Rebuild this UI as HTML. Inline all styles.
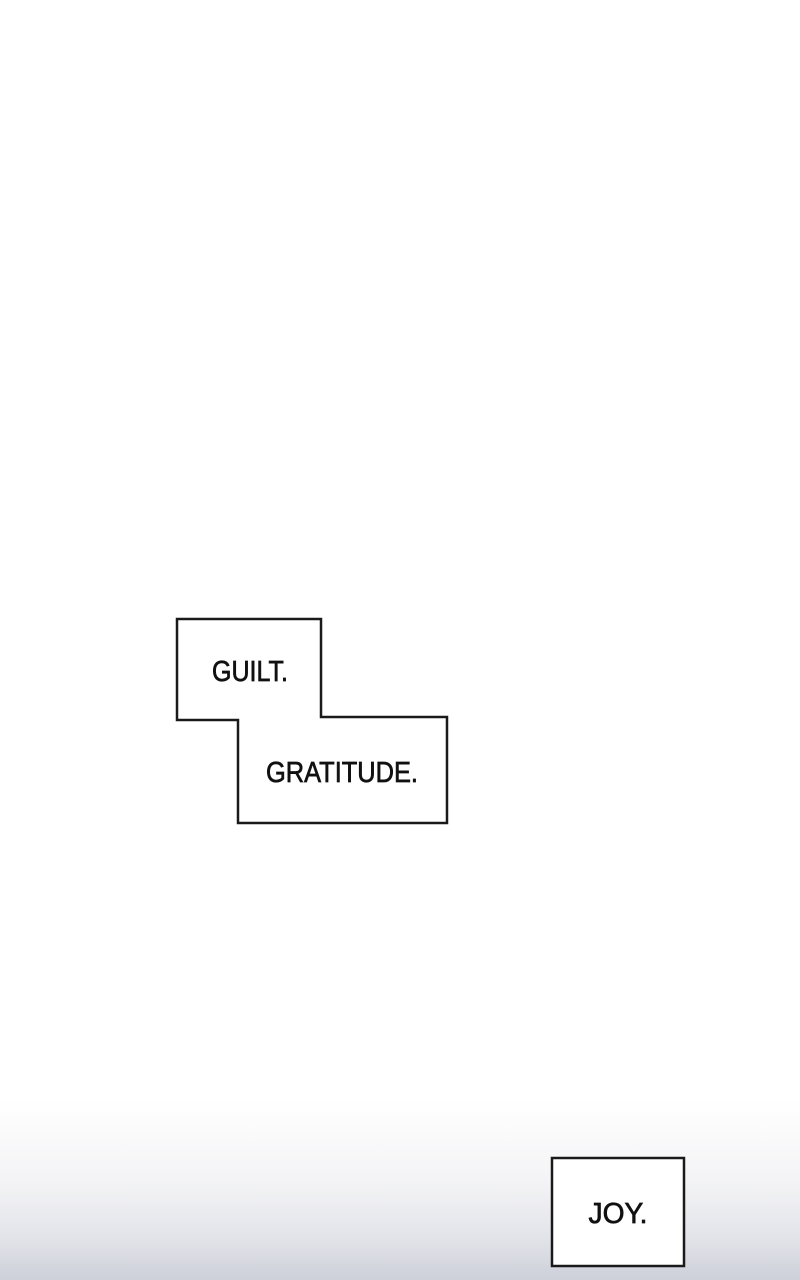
<!DOCTYPE html>
<html><head><style>
html,body{margin:0;padding:0}
body{width:800px;height:1280px;position:relative;overflow:hidden;background:linear-gradient(to bottom,#fff 0,#fff 1100px,#f4f4f6 1180px,#e2e3e9 1240px,#cdcfd9 1280px);font-family:"Liberation Sans",sans-serif}
svg{position:absolute;left:0;top:0}
</style></head><body>
<svg width="800" height="1280">
<polygon points="177,619 321,619 321,717 447,717 447,823 238,823 238,720 177,720" fill="#fff" stroke="#1a1a1a" stroke-width="2.5"/>
<rect x="552" y="1158" width="132" height="108" fill="#fff" stroke="#1a1a1a" stroke-width="2.5"/>
<g font-family="Liberation Sans, sans-serif" font-size="29" fill="#111" stroke="#111" stroke-width="0.7">
<text x="250" y="681" text-anchor="middle" textLength="76" lengthAdjust="spacingAndGlyphs">GUILT.</text>
<text x="342" y="782" text-anchor="middle" textLength="152" lengthAdjust="spacingAndGlyphs">GRATITUDE.</text>
<text x="618" y="1223" text-anchor="middle" textLength="59" lengthAdjust="spacingAndGlyphs">JOY.</text>
</g>
</svg>
</body></html>
